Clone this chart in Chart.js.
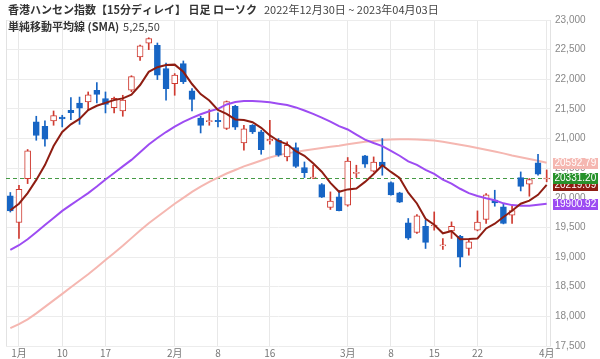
<!DOCTYPE html>
<html>
<head>
<meta charset="utf-8">
<script src="https://cdn.jsdelivr.net/npm/chart.js@4.4.0/dist/chart.umd.min.js"></script>
<style>
html, body { margin: 0; padding: 0; background: #fff; }
#wrap { position: relative; width: 600px; height: 359px; }
</style>
</head>
<body>
<div id="wrap"><canvas id="chart" width="600" height="359"></canvas></div>
<script>
// trading days shown (Dec 30 2022 - Apr 3 2023)
const days = [
    "2022-12-30",
    "2023-01-03", "2023-01-04", "2023-01-05", "2023-01-06",
    "2023-01-09", "2023-01-10", "2023-01-11", "2023-01-12", "2023-01-13",
    "2023-01-16", "2023-01-17", "2023-01-18", "2023-01-19", "2023-01-20",
    "2023-01-26", "2023-01-27",
    "2023-01-30", "2023-01-31", "2023-02-01", "2023-02-02", "2023-02-03",
    "2023-02-06", "2023-02-07", "2023-02-08", "2023-02-09", "2023-02-10",
    "2023-02-13", "2023-02-14", "2023-02-15", "2023-02-16", "2023-02-17",
    "2023-02-20", "2023-02-21", "2023-02-22", "2023-02-23", "2023-02-24",
    "2023-02-27", "2023-02-28", "2023-03-01", "2023-03-02", "2023-03-03",
    "2023-03-06", "2023-03-07", "2023-03-08", "2023-03-09", "2023-03-10",
    "2023-03-13", "2023-03-14", "2023-03-15", "2023-03-16", "2023-03-17",
    "2023-03-20", "2023-03-21", "2023-03-22", "2023-03-23", "2023-03-24",
    "2023-03-27", "2023-03-28", "2023-03-29", "2023-03-30", "2023-03-31",
    "2023-04-03"
];

const opens = [
    20032, 19583, 20325, 21280, 21207, 21297, 21364, 21477, 21600, 21617,
    21815, 21675, 21523, 21465, 21815, 22376, 22608, 22573, 22180, 21927,
    22265, 21803, 21347, 21285, 21309, 21169, 21545, 20926, 21224, 21112,
    20960, 20971, 20690, 20848, 20511, 20335, 20224, 19836, 20015, 19875,
    20410, 20707, 20449, 20605, 20258, 20083, 19577, 19415, 19521, 19525,
    19190, 19442, 19352, 19145, 19454, 19634, 19960, 19847, 19707, 20342,
    20229, 20589, 20318
];
const highs = [
    20090, 20210, 20815, 21376, 21297, 21465, 21393, 21690, 21700, 21786,
    21944, 21786, 21700, 21730, 22060, 22575, 22700, 22612, 22275, 22096,
    22309, 21843, 21376, 21489, 21432, 21634, 21561, 21224, 21236, 21140,
    21309, 21000, 20943, 20926, 20605, 20550, 20241, 20100, 20128, 20680,
    20550, 20718, 20690, 21000, 20268, 20094, 19651, 19718, 19622, 19762,
    19314, 19594, 19369, 19285, 19779, 20072, 20128, 19904, 19875, 20437,
    20325, 20735, 20470
];
const lows = [
    19760, 19315, 20240, 20971, 20870, 21224, 21196, 21320, 21240, 21477,
    21600, 21432, 21432, 21376, 21790, 22320, 22500, 21995, 21646, 21730,
    21927, 21465, 21094, 21224, 21196, 21152, 21152, 20803, 21084, 20735,
    20904, 20700, 20622, 20511, 20342, 20325, 20005, 19803, 19779, 19858,
    20342, 20511, 20437, 20381, 20044, 19920, 19297, 19398, 19145, 19454,
    19128, 19314, 18835, 19032, 19442, 19567, 19858, 19560, 19567, 20116,
    20027, 20381, 20270
];
const closes = [
    19781, 20145, 20793, 21052, 20991, 21388, 21331, 21436, 21514, 21738,
    21746, 21577, 21678, 21650, 22044, 22566, 22688, 22069, 21842, 22072,
    21958, 21660, 21222, 21298, 21283, 21624, 21190, 21164, 21113, 20812,
    20987, 20719, 20886, 20529, 20423, 20351, 20010, 19943, 19785, 20619,
    20429, 20567, 20603, 20534, 20051, 19925, 19319, 19695, 19247, 19539,
    19203, 19518, 19000, 19258, 19591, 20049, 19915, 19566, 19784, 20192,
    20309, 20400, 20331.20
];

// moving averages as plotted
const sma5 = [
    19791, 19901, 20080, 20302, 20552, 20874, 21111, 21240, 21332, 21481,
    21553, 21602, 21651, 21678, 21739, 21903, 22125, 22203, 22242, 22247,
    22126, 21920, 21751, 21642, 21484, 21417, 21323, 21312, 21275, 21181,
    21053, 20959, 20903, 20787, 20709, 20582, 20440, 20251, 20102, 20142,
    20157, 20269, 20401, 20550, 20437, 20336, 20086, 19905, 19647, 19545,
    19401, 19440, 19301, 19304, 19314, 19483, 19563, 19676, 19781, 19901,
    19953, 20050, 20219.09
];
const sma25 = [
    19120, 19200, 19300, 19420, 19540, 19660, 19780, 19880, 19980, 20080,
    20190, 20310, 20420, 20530, 20640, 20770, 20900, 21010, 21110, 21200,
    21280, 21350, 21410, 21460, 21501, 21575, 21617, 21632, 21634, 21627,
    21611, 21587, 21565, 21525, 21473, 21417, 21354, 21285, 21210, 21153,
    21068, 20983, 20924, 20872, 20791, 20710, 20616, 20555, 20473, 20403,
    20306, 20239, 20153, 20079, 20030, 19992, 19960, 19907, 19877, 19868,
    19866, 19882, 19900.92
];
const sma50 = [
    17800, 17870, 17950, 18050, 18160, 18270, 18380, 18490, 18600, 18710,
    18830, 18950, 19070, 19190, 19320, 19450, 19570, 19680, 19790, 19900,
    20000, 20100, 20190, 20270, 20340, 20410, 20470, 20530, 20580, 20630,
    20680, 20720, 20750, 20775, 20800, 20820, 20840, 20860, 20880, 20905,
    20925, 20945, 20960, 20975, 20985, 20990, 20990, 20985, 20975, 20965,
    20945, 20920, 20895, 20870, 20840, 20810, 20780, 20750, 20715, 20685,
    20655, 20625, 20592.79
];

const tickDays = ["2023-01-03", "2023-01-10", "2023-01-17", "2023-02-01", "2023-02-08", "2023-02-16",
                  "2023-03-01", "2023-03-08", "2023-03-15", "2023-03-22", "2023-04-03"];
const tickTexts = ["1月", "10", "17", "2月", "8", "16", "3月", "8", "15", "22", "4月"];

const lastPrice = 20331.20;

const upColor = "#cf3a30";
const downColor = "#1765c4";
const sma5Color = "#8e1d12";
const sma25Color = "#9d4cf2";
const sma50Color = "#f5b7b1";
const numFont = '"Liberation Sans", Arial, sans-serif';
const jpFont = '"Noto Sans CJK JP", sans-serif';

const isUp = closes.map((c, i) => c >= opens[i]);

const overlay = {
    id: "overlay",
    beforeDatasetsDraw(chart) {
        const { ctx, chartArea: a, scales: { y } } = chart;
        ctx.save();
        ctx.strokeStyle = "#e2e2e2";
        ctx.lineWidth = 1;
        ctx.beginPath();
        ctx.moveTo(Math.round(a.left) + 0.5, a.top);
        ctx.lineTo(Math.round(a.left) + 0.5, a.bottom);
        ctx.moveTo(Math.round(a.right) - 0.5, a.top);
        ctx.lineTo(Math.round(a.right) - 0.5, a.bottom);
        ctx.stroke();
        // last price line
        const yl = Math.round(y.getPixelForValue(lastPrice)) + 0.5;
        ctx.strokeStyle = "#459a45";
        ctx.setLineDash([4, 3]);
        ctx.beginPath();
        ctx.moveTo(a.left, yl);
        ctx.lineTo(a.right, yl);
        ctx.stroke();
        ctx.restore();
    },
    afterDraw(chart) {
        const { ctx, chartArea: a, scales: { y } } = chart;
        ctx.save();
        // value tags on the right
        const tags = [
            { v: sma50[sma50.length - 1], bg: sma50Color },
            { v: sma5[sma5.length - 1], bg: sma5Color },
            { v: sma25[sma25.length - 1], bg: sma25Color },
            { v: lastPrice, bg: "#27922b" }
        ];
        ctx.font = "10px " + numFont;
        ctx.textBaseline = "middle";
        ctx.textAlign = "left";
        tags.forEach(t => {
            const yy = Math.round(y.getPixelForValue(t.v));
            ctx.fillStyle = t.bg;
            ctx.fillRect(a.right + 2, yy - 5, 45, 11);
            ctx.fillStyle = "#fff";
            ctx.fillText(t.v.toFixed(2), a.right + 3.5, yy + 0.5);
        });
        // titles
        ctx.fillStyle = "#333";
        ctx.font = "bold 11px " + jpFont;
        ctx.fillText("香港ハンセン指数【15分ディレイ】 日足 ローソク", 8, 10);
        ctx.font = "11px " + jpFont;
        ctx.fillStyle = "#444";
        ctx.fillText("2022年12月30日 ~ 2023年04月03日", 264, 10);
        ctx.font = "bold 11px " + jpFont;
        ctx.fillStyle = "#333";
        const t2 = "単純移動平均線 (SMA)";
        ctx.fillText(t2, 8, 27);
        const w2 = ctx.measureText(t2).width;
        ctx.font = "11px " + jpFont;
        ctx.fillStyle = "#444";
        ctx.fillText("5,25,50", 8 + w2 + 4, 27);
        ctx.restore();
    }
};

new Chart(document.getElementById("chart"), {
    type: "bar",
    data: {
        labels: days,
        datasets: [
            {
                type: "line",
                label: "SMA5",
                data: sma5,
                borderColor: sma5Color,
                borderWidth: 2,
                pointRadius: 0,
                order: 0
            },
            {
                type: "line",
                label: "SMA25",
                data: sma25,
                borderColor: sma25Color,
                borderWidth: 2,
                pointRadius: 0,
                order: 0
            },
            {
                type: "line",
                label: "SMA50",
                data: sma50,
                borderColor: sma50Color,
                borderWidth: 2,
                pointRadius: 0,
                order: 3
            },
            {
                label: "body",
                data: days.map((d, i) => [opens[i], closes[i]]),
                backgroundColor: isUp.map(u => u ? "#fff" : downColor),
                borderColor: isUp.map(u => u ? upColor : downColor),
                borderWidth: 1,
                borderSkipped: false,
                barThickness: 6,
                minBarLength: 1,
                grouped: false,
                order: 1
            },
            {
                label: "wick",
                data: days.map((d, i) => [lows[i], highs[i]]),
                backgroundColor: isUp.map(u => u ? upColor : downColor),
                borderWidth: 0,
                barThickness: 1,
                grouped: false,
                order: 2
            }
        ]
    },
    options: {
        responsive: false,
        animation: false,
        devicePixelRatio: 1,
        layout: { padding: { left: 6, top: 20, right: 0, bottom: 0 } },
        plugins: {
            legend: { display: false },
            tooltip: { enabled: false }
        },
        scales: {
            x: {
                offset: true,
                grid: {
                    offset: false,
                    drawTicks: false,
                    color: c => (c.index !== undefined && tickDays.includes(days[c.index])) ? "#e8e8e8" : "rgba(0,0,0,0)"
                },
                border: { display: false },
                ticks: {
                    autoSkip: false,
                    maxRotation: 0,
                    padding: 1,
                    color: "#777",
                    font: { size: 10, family: jpFont },
                    callback: function (v, i) {
                        const k = tickDays.indexOf(days[i]);
                        return k >= 0 ? tickTexts[k] : "";
                    }
                },
                afterFit: s => { s.height = 13; }
            },
            y: {
                position: "right",
                min: 17500,
                max: 23000,
                grid: { color: "#ececec", drawTicks: false },
                border: { display: false },
                ticks: {
                    stepSize: 500,
                    padding: 4,
                    color: "#888",
                    font: { size: 10, family: numFont }
                },
                afterFit: s => { s.width = 49; }
            }
        }
    },
    plugins: [overlay]
});
</script>
</body>
</html>
